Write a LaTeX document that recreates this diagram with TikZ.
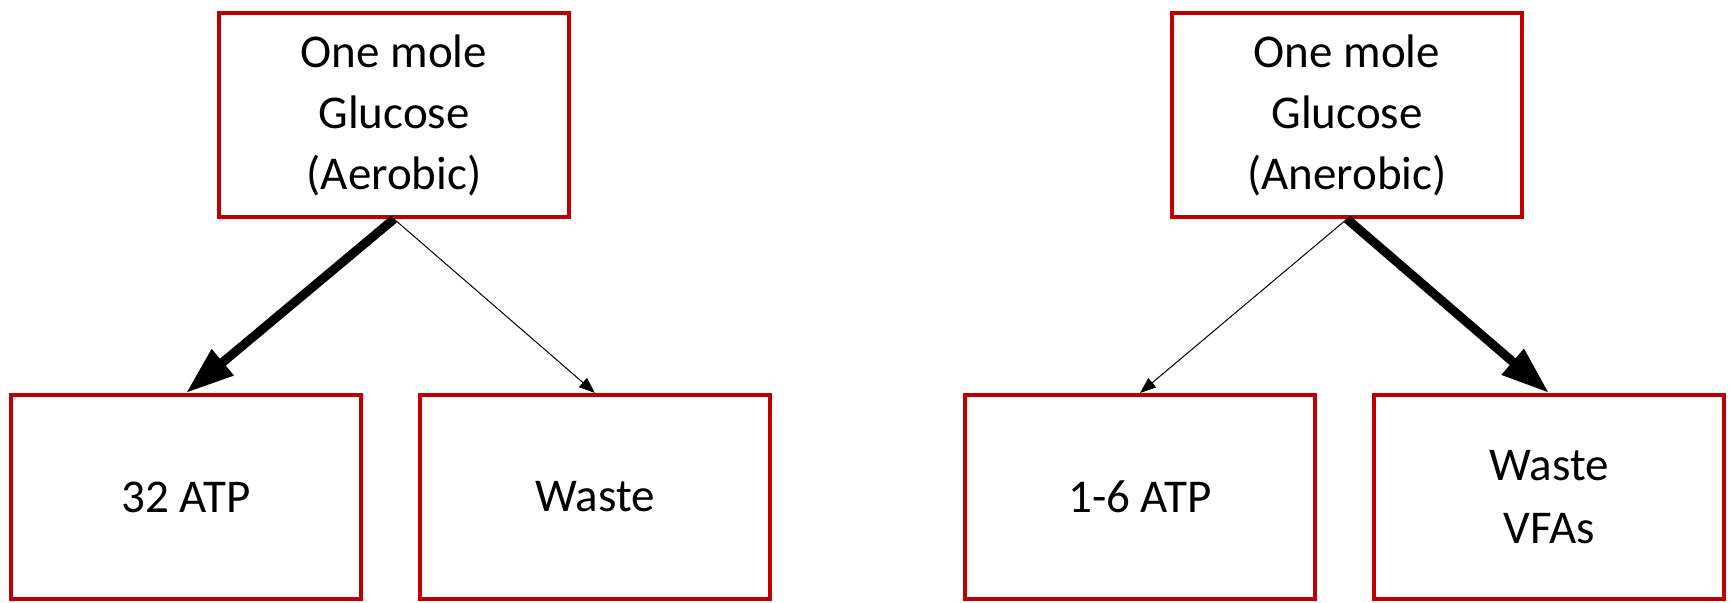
\documentclass[tikz,border=0pt]{standalone}
\usepackage{fontspec}
\setmainfont{Carlito}
\usetikzlibrary{arrows.meta}
\definecolor{boxred}{HTML}{C00000}
\tikzset{
  box/.style={draw=boxred, line width=4pt, minimum width=350pt, minimum height=204pt,
    inner sep=0pt, align=center, font=\fontsize{47}{57}\selectfont, text=black},
  heavy/.style={line width=9pt, -{Triangle[length=48pt,width=32pt]}},
  light/.style={line width=1pt, -{Triangle[length=16pt,width=12pt]}}
}
\begin{document}
\begin{tikzpicture}[x=1pt,y=-1pt]
\useasboundingbox (0,0) rectangle (1731,602);
\node[box] (aer) at (394,115) {One mole\\[4pt]Glucose\\[4pt](Aerobic)};
\node[box] (atpA) at (186,497) {32 ATP};
\node[box] (wasteA) at (595,497) {Waste};
\node[box] (ana) at (1347,115) {One mole\\[4pt]Glucose\\[4pt](Anerobic)};
\node[box] (atpB) at (1140,497) {1-6 ATP};
\node[box] (wasteB) at (1549,497) {Waste\\[6pt]VFAs};
\draw[heavy] (aer.south) -- (atpA.north);
\draw[light] (aer.south) -- (wasteA.north);
\draw[light] (ana.south) -- (atpB.north);
\draw[heavy] (ana.south) -- (wasteB.north);
\end{tikzpicture}
\end{document}
